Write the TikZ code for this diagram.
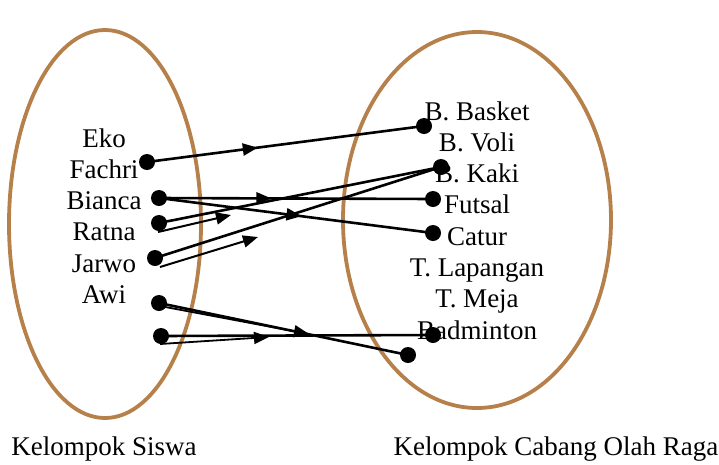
\documentclass[tikz,border=0pt]{standalone}
\usepackage{fontspec}
\setmainfont{Liberation Serif}
\usetikzlibrary{arrows.meta,positioning,decorations.markings}
\definecolor{ovalbrown}{RGB}{181,128,74}

\begin{document}
\begin{tikzpicture}[x=1pt,y=-1pt,>={Triangle[length=15pt,width=12pt]},
                    line width=2.6pt,node distance=31.3pt,
                    lbl/.style={font=\fontsize{27}{31}\selectfont,
                                text height=18pt,text depth=6pt,inner sep=0pt},
                    dot/.style={circle,fill=black,inner sep=0pt,minimum size=16pt},
                    midarrow/.style={postaction={decorate},
                      decoration={markings,mark=at position #1 with {\arrow{>}}}}]
  \useasboundingbox (0,0) rectangle (719,464);
  %\tikzstyle{every node}=[draw=red]

  % the two sets
  \draw[ovalbrown,line width=3.8pt] (105,224) ellipse [x radius=96pt,y radius=194pt];
  \draw[ovalbrown,line width=3.8pt] (477,220) ellipse [x radius=134pt,y radius=188pt];

  \node[lbl] (eko)                      at (104,141) {Eko};
  \node[lbl] (fachri) [below of=eko]    {Fachri};
  \node[lbl] (bianca) [below of=fachri] {Bianca};
  \node[lbl] (ratna)  [below of=bianca] {Ratna};
  \node[lbl] (jarwo)  [below of=ratna]  {Jarwo};
  \node[lbl] (awi)    [below of=jarwo]  {Awi};

  \node[lbl] (basket)                       at (477,114) {B. Basket};
  \node[lbl] (voli)     [below of=basket]   {B. Voli};
  \node[lbl] (kaki)     [below of=voli]     {B. Kaki};
  \node[lbl] (futsal)   [below of=kaki]     {Futsal};
  \node[lbl] (catur)    [below of=futsal]   {Catur};
  \node[lbl] (lapangan) [below of=catur]    {T. Lapangan};
  \node[lbl] (meja)     [below of=lapangan] {T. Meja};
  \node[lbl] (badm)     [below of=meja]     {Badminton};

  \node[lbl] (siswa) at (104,449) {Kelompok Siswa};
  \node[lbl] (raga)  at (556,449) {Kelompok Cabang Olah Raga};

  % dots
  \node[dot] (s1) at (147,162) {};
  \node[dot] (s2) at (159,198) {};
  \node[dot] (s3) at (159,223) {};
  \node[dot] (s4) at (155,258) {};
  \node[dot] (s5) at (159,303) {};
  \node[dot] (s6) at (161,336) {};

  \node[dot] (o1) at (424,126) {};
  \node[dot] (o2) at (441,167) {};
  \node[dot] (o3) at (433,199) {};
  \node[dot] (o4) at (433,233) {};
  \node[dot] (o5) at (433,335) {};
  \node[dot] (o6) at (408,355) {};

  % loose arrow ends
  \coordinate (t1a) at (158,232);  \coordinate (t1b) at (231,215);
  \coordinate (t2a) at (160,267);  \coordinate (t2b) at (258,237);
  \coordinate (t3a) at (160,306);  \coordinate (t3b) at (309,334);
  \coordinate (t4a) at (160,344);  \coordinate (t4b) at (269,337);

  \draw[midarrow=0.40] (s1.center) -- (o1.center);
  \draw[midarrow=0.41] (s2.center) -- (o3.center);
  \draw[midarrow=0.52] (s2.center) -- (o4.center);
  \draw (s3.center) -- (o2.center);
  \draw (s4.center) -- (o2.center);
  \draw (s5.center) -- (o6.center);
  \draw (s6.center) -- (o5.center);

  \draw[->,line width=2pt] (t1a) -- (t1b);
  \draw[->,line width=2pt] (t2a) -- (t2b);
  \draw[->,line width=1.8pt] (t3a) -- (t3b);
  \draw[->,line width=1.8pt] (t4a) -- (t4b);
\end{tikzpicture}
\end{document}
